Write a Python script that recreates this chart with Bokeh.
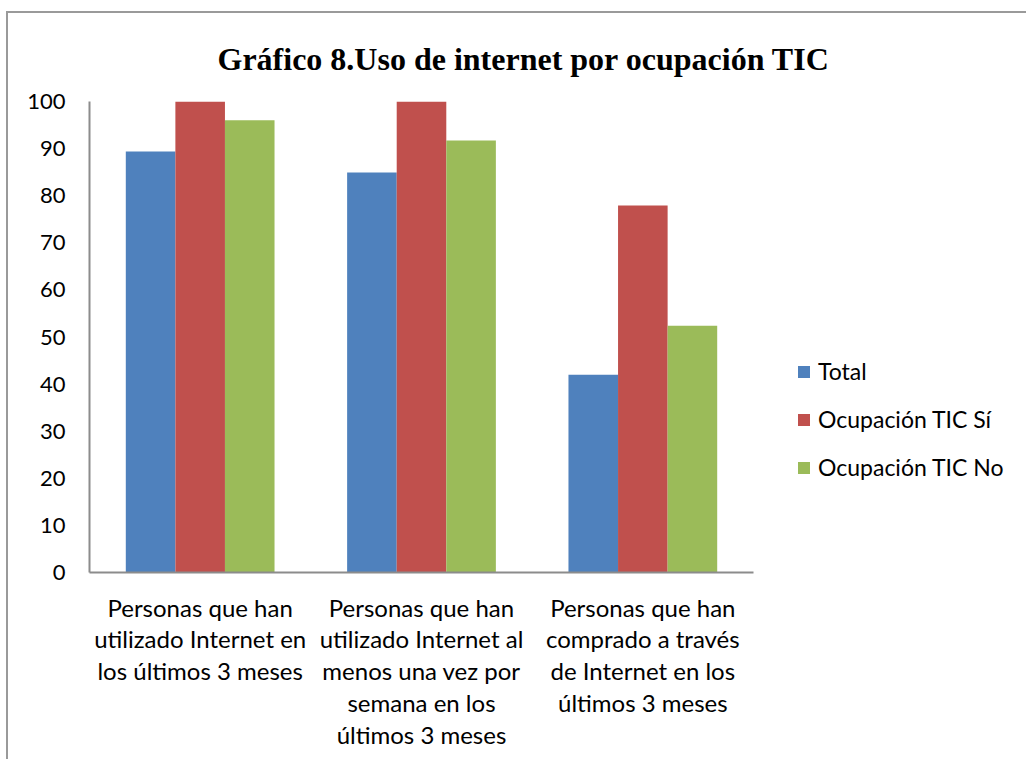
from bokeh.plotting import figure
from bokeh.models import ColumnDataSource, FixedTicker, Legend, LegendItem, Range1d
from bokeh.transform import dodge
from bokeh.embed import file_html
from bokeh.resources import INLINE

categories = [
    "Personas que han\nutilizado Internet en\nlos últimos 3 meses",
    "Personas que han\nutilizado Internet al\nmenos una vez por\nsemana en los\núltimos 3 meses",
    "Personas que han\ncomprado a través\nde Internet en los\núltimos 3 meses",
]
total = [89.4, 84.9, 42.0]
tic_si = [100.0, 100.0, 77.9]
tic_no = [96.0, 91.7, 52.4]
series_names = ["Total", "Ocupación TIC Sí", "Ocupación TIC No"]
y_ticks = [0, 10, 20, 30, 40, 50, 60, 70, 80, 90, 100]

colors = ["#4F81BD", "#C0504D", "#9BBB59"]

source = ColumnDataSource(data=dict(cat=categories, total=total, si=tic_si, no=tic_no))

p = figure(
    x_range=categories,
    y_range=Range1d(0, 100),
    frame_width=664, frame_height=471,
    output_backend="svg", toolbar_location=None,
    min_border_left=81, min_border_right=269,
    min_border_top=88, min_border_bottom=187,
)
p.styles = {"border-left": "2px solid #9a9a9a", "border-top": "2px solid #9a9a9a",
            "margin-top": "11px", "margin-left": "6px"}

p.title.text = "Gráfico 8.Uso de internet por ocupación TIC"
p.title.text_font = "Liberation Serif"
p.title.text_font_style = "bold"
p.title.text_font_size = "32px"
p.title.text_color = "#000000"
p.title.align = "left"
p.title.offset = 128
p.title.standoff = 50

p.outline_line_color = None
p.xgrid.grid_line_color = None
p.ygrid.grid_line_color = None
p.background_fill_color = "white"
p.border_fill_color = "white"

w = 0.224
r1 = p.vbar(x=dodge("cat", -w, range=p.x_range), top="total", width=w, source=source, fill_color=colors[0], line_color=None)
r2 = p.vbar(x=dodge("cat", 0.0, range=p.x_range), top="si", width=w, source=source, fill_color=colors[1], line_color=None)
r3 = p.vbar(x=dodge("cat", w, range=p.x_range), top="no", width=w, source=source, fill_color=colors[2], line_color=None)

# axes
p.yaxis.ticker = FixedTicker(ticks=y_ticks)
p.yaxis.major_tick_line_color = None
p.yaxis.minor_tick_line_color = None
p.yaxis.axis_line_color = "#8c8c8c"
p.yaxis.axis_line_width = 2
p.yaxis.major_label_text_font = "Lato"
p.yaxis.major_label_text_font_size = "22px"
p.yaxis.major_label_text_color = "#000000"
p.yaxis.major_label_standoff = 18

p.xaxis.major_tick_line_color = None
p.xaxis.axis_line_color = "#8c8c8c"
p.xaxis.axis_line_width = 2
p.xaxis.major_label_text_font = "Lato"
p.xaxis.major_label_text_font_size = "24px"
p.xaxis.major_label_text_color = "#000000"
p.xaxis.major_label_text_line_height = 1.1
p.xaxis.major_label_standoff = 14

legend = Legend(
    items=[LegendItem(label=n, renderers=[r]) for n, r in zip(series_names, [r1, r2, r3])],
    location=(43, 91),
    padding=0, margin=0,
    border_line_color=None, background_fill_alpha=0,
    glyph_width=15, glyph_height=15,
    label_height=28, spacing=20, label_standoff=7,
    label_text_font="Lato", label_text_font_size="23px", label_text_color="#000000",
)
p.add_layout(legend, "right")

open("out.html", "w").write(file_html(p, INLINE))
